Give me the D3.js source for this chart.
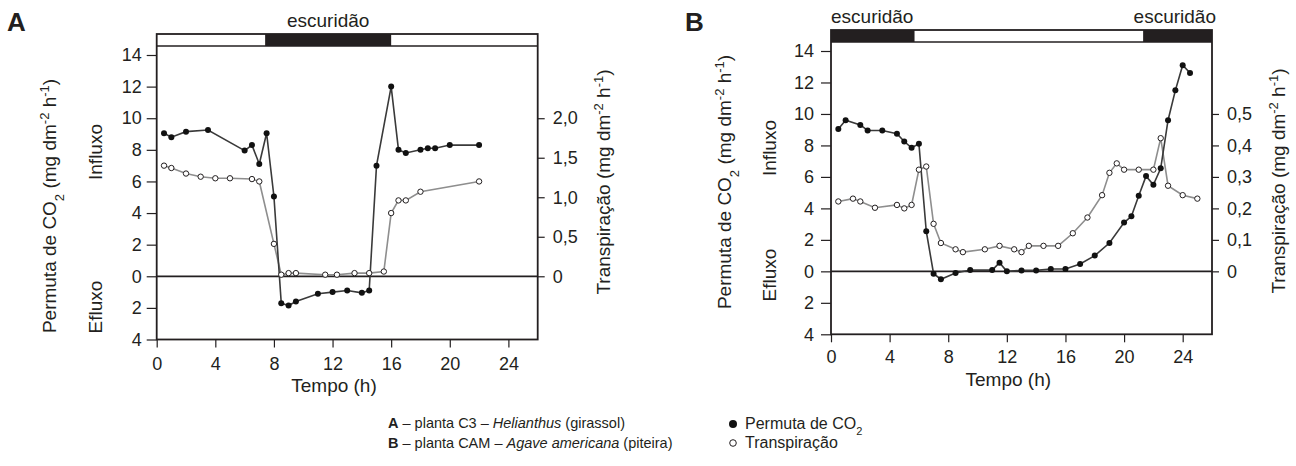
<!DOCTYPE html>
<html>
<head>
<meta charset="utf-8">
<script src="https://cdn.jsdelivr.net/npm/d3@7"></script>
<style>
  body { margin: 0; background: #fff; }
  svg { font-family: "Liberation Sans", Arial, sans-serif; fill: #231f20; }
</style>
</head>
<body>
<svg id="chart" width="1296" height="466"></svg>
<script>
// Panel A - C3 (Helianthus)
const hoursCO2A = [0.5, 1, 2, 3.5, 6, 6.5, 7, 7.5, 8, 8.5, 9, 9.5, 11, 12, 13, 14, 14.5, 15, 16, 16.5, 17, 18, 18.5, 19, 20, 22];
const co2A = [9.05, 8.8, 9.15, 9.25, 7.95, 8.3, 7.1, 9.05, 5.05, -1.7, -1.85, -1.6, -1.1, -1.0, -0.9, -1.05, -0.9, 7.0, 12.0, 8.0, 7.8, 8.0, 8.1, 8.1, 8.3, 8.3];
const hoursTrA = [0.5, 1, 2, 3, 4, 5, 6.5, 7, 8, 8.5, 9, 9.5, 11.5, 12.3, 13.5, 14.5, 15.5, 16, 16.5, 17, 18, 22];
const transpA = [1.4, 1.37, 1.3, 1.26, 1.24, 1.24, 1.23, 1.2, 0.41, 0.02, 0.04, 0.04, 0.02, 0.02, 0.04, 0.04, 0.06, 0.8, 0.96, 0.96, 1.07, 1.2];
const darkA = [[7.4, 16]];

// Panel B - CAM (Agave americana)
const hoursCO2B = [0.5, 1, 2, 2.5, 3.5, 4.5, 5, 5.5, 6, 6.5, 7, 7.5, 8.5, 9.5, 11, 11.5, 12, 13, 14, 15, 16, 17, 18, 19, 20, 20.5, 21, 21.5, 22, 22.5, 23, 23.5, 24, 24.5];
const co2B = [9.05, 9.6, 9.3, 8.95, 8.95, 8.75, 8.25, 7.85, 8.1, 2.55, -0.15, -0.5, -0.1, 0.08, 0.08, 0.55, 0, 0.06, 0.06, 0.15, 0.15, 0.47, 1.0, 1.8, 3.1, 3.5, 4.8, 6.05, 5.5, 6.55, 9.6, 11.5, 13.1, 12.6];
const hoursTrB = [0.5, 1.5, 2, 3, 4.5, 5, 5.5, 6, 6.5, 7, 7.5, 8.5, 9, 10.5, 11.5, 12.5, 13, 13.5, 14.5, 15.5, 16.5, 17.5, 18.5, 19, 19.5, 20, 21, 22, 22.5, 23, 24, 25];
const transpB = [0.222, 0.231, 0.222, 0.202, 0.211, 0.2, 0.211, 0.323, 0.333, 0.151, 0.09, 0.07, 0.061, 0.07, 0.081, 0.07, 0.061, 0.081, 0.081, 0.081, 0.121, 0.171, 0.242, 0.313, 0.343, 0.323, 0.323, 0.323, 0.423, 0.272, 0.242, 0.231];
const darkB = [[0, 5.7], [21.3, 26]];

const xTicks = [0, 4, 8, 12, 16, 20, 24];
const leftTicks = [-4, -2, 0, 2, 4, 6, 8, 10, 12, 14];
const rightTicksA = [0, 0.5, 1, 1.5, 2];
const rightTicksB = [0, 0.1, 0.2, 0.3, 0.4, 0.5];

const INK = '#231f20';
const svg = d3.select('#chart');

const commaFmt = d => d === 0 ? '0' : d3.format('.1f')(d).replace('.', ',');

function drawPanel(p) {
  const x = d3.scaleLinear().domain([0, 26]).range([p.left, p.right]);
  const y = d3.scaleLinear().domain([-4, 14]).range([p.bottom, p.top14]);
  const yR = d3.scaleLinear().domain(p.rightDomain).range([p.bottom, p.top14]);
  const barTop = p.top14 - 21, barH = 12;
  const g = svg.append('g');

  // light/dark bar on top
  g.append('rect').attr('x', x(0)).attr('y', barTop).attr('width', x(26) - x(0)).attr('height', barH)
    .attr('fill', '#fff');
  g.selectAll('rect.dark').data(p.dark).enter().append('rect')
    .attr('class', 'dark')
    .attr('x', d => x(d[0])).attr('y', barTop)
    .attr('width', d => x(d[1]) - x(d[0])).attr('height', barH)
    .attr('fill', INK);
  g.append('line').attr('x1', x(0)).attr('x2', x(26)).attr('y1', barTop + barH).attr('y2', barTop + barH)
    .attr('stroke', INK).attr('stroke-width', 1.6);
  // frame
  g.append('rect').attr('x', x(0)).attr('y', barTop).attr('width', x(26) - x(0)).attr('height', y(-4) - barTop)
    .attr('fill', 'none').attr('stroke', INK).attr('stroke-width', 1.8);
  // zero line
  g.append('line').attr('x1', x(0)).attr('x2', x(26)).attr('y1', y(0)).attr('y2', y(0))
    .attr('stroke', INK).attr('stroke-width', 1.8);

  // axes
  const styleAxis = a => {
    a.select('.domain').remove();
    a.selectAll('.tick line').attr('stroke', INK).attr('stroke-width', 1.2);
    a.selectAll('.tick text').attr('fill', INK).style('font-size', '18px')
      .style('font-family', '"Liberation Sans", Arial, sans-serif');
  };
  g.append('g').attr('transform', `translate(0,${y(-4)})`)
    .call(d3.axisBottom(x).tickValues(xTicks).tickSize(8).tickPadding(p.xPad))
    .call(styleAxis);
  g.append('g').attr('transform', `translate(${x(0)},0)`)
    .call(d3.axisLeft(y).tickValues(leftTicks).tickFormat(d => Math.abs(d)).tickSize(10).tickPadding(p.yPad))
    .call(styleAxis);
  g.append('g').attr('transform', `translate(${x(26)},0)`)
    .call(d3.axisRight(yR).tickValues(p.rightTicks).tickFormat(commaFmt).tickSize(7).tickPadding(8))
    .call(styleAxis);

  // series lines
  const lineCO2 = d3.line().x(d => x(d[0])).y(d => y(d[1]));
  const lineTr = d3.line().x(d => x(d[0])).y(d => yR(d[1]));
  const co2 = d3.zip(p.hoursCO2, p.co2);
  const tr = d3.zip(p.hoursTr, p.transp);

  g.append('path').datum(tr).attr('d', lineTr)
    .attr('fill', 'none').attr('stroke', '#8e8e8e').attr('stroke-width', 1.6);
  g.append('path').datum(co2).attr('d', lineCO2)
    .attr('fill', 'none').attr('stroke', '#3a3a3a').attr('stroke-width', 1.6);

  g.selectAll('circle.tr').data(tr).enter().append('circle')
    .attr('class', 'tr')
    .attr('cx', d => x(d[0])).attr('cy', d => yR(d[1])).attr('r', 2.7)
    .attr('fill', '#fff').attr('stroke', INK).attr('stroke-width', 1);
  g.selectAll('circle.co2').data(co2).enter().append('circle')
    .attr('class', 'co2')
    .attr('cx', d => x(d[0])).attr('cy', d => y(d[1])).attr('r', 3)
    .attr('fill', '#111');

  // "escuridão" labels
  p.darkLabels.forEach(l => {
    g.append('text').attr('x', l.x(x)).attr('y', barTop - 7)
      .attr('text-anchor', l.anchor).style('font-size', '19px').text('escuridão');
  });

  // panel letter
  g.append('text').attr('x', p.letterX).attr('y', 31)
    .style('font-size', '26px').style('font-weight', 'bold').text(p.letter);

  // x title
  g.append('text').attr('x', x(12.1)).attr('y', y(-4) + 52)
    .attr('text-anchor', 'middle').style('font-size', '19px').text('Tempo (h)');

  // left title
  const lt = g.append('text')
    .attr('transform', `translate(${p.leftTitleX},${p.leftTitleY}) rotate(-90)`)
    .attr('text-anchor', 'middle').style('font-size', '19px');
  lt.append('tspan').text('Permuta de CO');
  lt.append('tspan').attr('baseline-shift', 'sub').style('font-size', '13px').text('2');
  lt.append('tspan').text(' (mg dm');
  lt.append('tspan').attr('baseline-shift', 'super').style('font-size', '13px').text('-2');
  lt.append('tspan').text(' h');
  lt.append('tspan').attr('baseline-shift', 'super').style('font-size', '13px').text('-1');
  lt.append('tspan').text(')');

  // right title
  const rt = g.append('text')
    .attr('transform', `translate(${p.rightTitleX},${p.rightTitleY}) rotate(-90)`)
    .attr('text-anchor', 'middle').style('font-size', '19px');
  rt.append('tspan').text('Transpiração (mg dm');
  rt.append('tspan').attr('baseline-shift', 'super').style('font-size', '13px').text('-2');
  rt.append('tspan').text(' h');
  rt.append('tspan').attr('baseline-shift', 'super').style('font-size', '13px').text('-1');
  rt.append('tspan').text(')');

  // Influxo / Efluxo
  [['Influxo', p.influxoY], ['Efluxo', p.efluxoY]].forEach(([t, cy]) => {
    g.append('text').attr('transform', `translate(${p.fluxX},${cy}) rotate(-90)`)
      .attr('text-anchor', 'middle').style('font-size', '19px').text(t);
  });
}

drawPanel({
  letter: 'A', letterX: 7,
  left: 156.7, right: 537.7, top14: 55, bottom: 339.5,
  rightDomain: [-0.8, 2.8], rightTicks: rightTicksA,
  hoursCO2: hoursCO2A, co2: co2A, hoursTr: hoursTrA, transp: transpA,
  dark: darkA,
  darkLabels: [{ x: x => (x(darkA[0][0]) + x(darkA[0][1])) / 2, anchor: 'middle' }],
  xPad: 10, yPad: 5,
  leftTitleX: 56, leftTitleY: 206,
  rightTitleX: 610, rightTitleY: 182,
  fluxX: 101.5, influxoY: 152, efluxoY: 307
});

drawPanel({
  letter: 'B', letterX: 685,
  left: 831, right: 1212, top14: 51, bottom: 334.3,
  rightDomain: [-0.2, 0.7], rightTicks: rightTicksB,
  hoursCO2: hoursCO2B, co2: co2B, hoursTr: hoursTrB, transp: transpB,
  dark: darkB,
  darkLabels: [{ x: x => x(0), anchor: 'start' }, { x: x => x(26) + 4, anchor: 'end' }],
  xPad: 8, yPad: 7,
  leftTitleX: 730.5, leftTitleY: 182,
  rightTitleX: 1284.5, rightTitleY: 181,
  fluxX: 775.5, influxoY: 148, efluxoY: 275
});

// legend
const legend = svg.append('g').style('font-size', '14.5px');
const l1 = legend.append('text').attr('x', 388).attr('y', 428);
l1.append('tspan').style('font-weight', 'bold').text('A');
l1.append('tspan').text(' – planta C3 – ');
l1.append('tspan').style('font-style', 'italic').text('Helianthus');
l1.append('tspan').text(' (girassol)');
const l2 = legend.append('text').attr('x', 388).attr('y', 448);
l2.append('tspan').style('font-weight', 'bold').text('B');
l2.append('tspan').text(' – planta CAM – ');
l2.append('tspan').style('font-style', 'italic').text('Agave americana');
l2.append('tspan').text(' (piteira)');

legend.append('circle').attr('cx', 733).attr('cy', 424).attr('r', 4).attr('fill', '#111');
const l3 = legend.append('text').attr('x', 745).attr('y', 429).style('font-size', '16px');
l3.append('tspan').text('Permuta de CO');
l3.append('tspan').attr('baseline-shift', 'sub').style('font-size', '11px').text('2');
legend.append('circle').attr('cx', 733).attr('cy', 443).attr('r', 3.3)
  .attr('fill', '#fff').attr('stroke', INK).attr('stroke-width', 1);
legend.append('text').attr('x', 745).attr('y', 448).style('font-size', '16px').text('Transpiração');
</script>
</body>
</html>
